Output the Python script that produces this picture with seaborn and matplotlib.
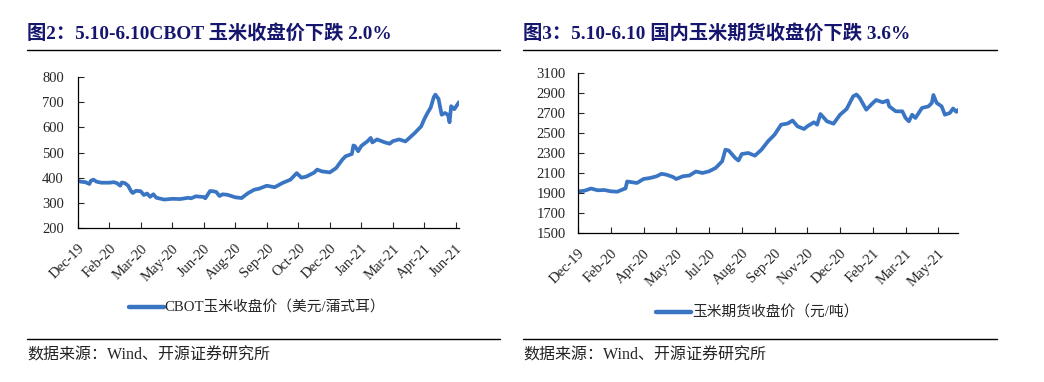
import matplotlib
matplotlib.use("Agg")
import matplotlib.pyplot as plt
from matplotlib.lines import Line2D
import seaborn as sns
import pandas as pd

# ---- data: left chart (CBOT corn close, USD/bushel), x in tick units ----
cbot_t = [0, 0.1, 0.25, 0.37, 0.42, 0.5, 0.6, 0.75, 1.0, 1.15, 1.25, 1.35, 1.4, 1.5, 1.6, 1.7,
          1.75, 1.85, 2.0, 2.1, 2.2, 2.3, 2.4, 2.5, 2.75, 3.0, 3.25, 3.5, 3.6, 3.75, 4.0,
          4.05, 4.2, 4.3, 4.4, 4.5, 4.6, 4.75, 5.0, 5.2, 5.4, 5.6, 5.75, 6.0, 6.25, 6.5,
          6.75, 6.95, 7.1, 7.25, 7.5, 7.6, 7.75, 8.0, 8.2, 8.4, 8.5, 8.7, 8.75, 8.8, 8.9,
          9.0, 9.2, 9.3, 9.35, 9.5, 9.75, 9.9, 10.0, 10.2, 10.4, 10.5, 10.7, 10.9, 11.0,
          11.1, 11.2, 11.3, 11.35, 11.45, 11.55, 11.65, 11.75, 11.8, 11.85, 11.95, 12.1]
cbot_v = [388, 384, 382, 375, 388, 392, 384, 380, 380, 382, 378, 368, 381, 378, 368, 345,
          339, 348, 346, 331, 337, 324, 334, 320, 313, 316, 315, 320, 318, 326, 323,
          318, 347, 346, 343, 327, 334, 332, 322, 319, 338, 352, 356, 368, 362, 379,
          392, 418, 400, 404, 420, 432, 425, 421, 438, 472, 485, 494, 528, 525, 505,
          526, 545, 558, 540, 552, 540, 535, 545, 552, 544, 555, 578, 604, 633,
          657, 678, 720, 730, 713, 650, 657, 650, 620, 684, 672, 700]
cbot_tick_labels = ["Dec-19", "Feb-20", "Mar-20", "May-20", "Jun-20", "Aug-20", "Sep-20",
                    "Oct-20", "Dec-20", "Jan-21", "Mar-21", "Apr-21", "Jun-21"]

# ---- data: right chart (DCE corn futures close, CNY/ton) ----
dce_t = [0, 0.2, 0.4, 0.6, 0.8, 1.0, 1.2, 1.4, 1.45, 1.5, 1.8, 2.0, 2.2, 2.4, 2.55, 2.7,
         2.9, 3.0, 3.2, 3.4, 3.6, 3.8, 4.0, 4.2, 4.4, 4.5, 4.6, 4.8, 4.9, 5.0, 5.2, 5.4,
         5.6, 5.8, 6.0, 6.2, 6.4, 6.55, 6.7, 6.9, 7.0, 7.2, 7.3, 7.4, 7.6, 7.8, 8.0, 8.2,
         8.4, 8.5, 8.6, 8.8, 9.0, 9.1, 9.3, 9.45, 9.5, 9.7, 9.9, 10.0, 10.1, 10.2, 10.3,
         10.5, 10.7, 10.8, 10.85, 10.95, 11.1, 11.2, 11.35, 11.45, 11.55, 11.62]
dce_v = [1915, 1923, 1945, 1927, 1930, 1917, 1913, 1940, 1945, 2015, 2000, 2040, 2050, 2067,
         2092, 2083, 2060, 2040, 2067, 2075, 2115, 2100, 2117, 2150, 2217, 2333, 2325, 2250,
         2225, 2290, 2300, 2273, 2333, 2417, 2483, 2583, 2595, 2625, 2567, 2540, 2567, 2607,
         2583, 2690, 2617, 2593, 2683, 2740, 2867, 2885, 2850, 2733, 2800, 2830, 2807, 2825,
         2767, 2717, 2717, 2650, 2617, 2683, 2650, 2750, 2767, 2800, 2880, 2800, 2767, 2683,
         2700, 2745, 2712, 2735]
dce_tick_labels = ["Dec-19", "Feb-20", "Apr-20", "May-20", "Jul-20", "Aug-20", "Sep-20",
                   "Nov-20", "Dec-20", "Feb-21", "Mar-21", "May-21"]

titles = ["图2：5.10-6.10CBOT 玉米收盘价下跌 2.0%", "图3：5.10-6.10 国内玉米期货收盘价下跌 3.6%"]
legend_labels = ["CBOT玉米收盘价（美元/蒲式耳）", "玉米期货收盘价（元/吨）"]
source_text = "数据来源：Wind、开源证券研究所"

sns.set_theme(style="white")
plt.rcParams["font.family"] = ["Liberation Serif", "Noto Sans CJK SC", "DejaVu Sans"]
plt.rcParams["axes.unicode_minus"] = False

LINE = "#3a75c4"
NAVY = "#16166e"

fig = plt.figure(figsize=(10.44, 3.82), dpi=100)
W, H = 1044, 382

def px_axes(l, r, t, b):
    return fig.add_axes([l / W, 1 - b / H, (r - l) / W, (b - t) / H])

axL = px_axes(77.7, 459, 77, 228)
axR = px_axes(578, 958, 73, 233)

dfL = pd.DataFrame({"t": cbot_t, "v": cbot_v, "s": legend_labels[0]})
dfR = pd.DataFrame({"t": dce_t, "v": dce_v, "s": legend_labels[1]})

for ax, df, ylim, yticks, ticklabels, xmax, leg_xy, ypad in [
    (axL, dfL, (200, 800), range(200, 801, 100), cbot_tick_labels, 12.1, (257, 308), 10),
    (axR, dfR, (1500, 3100), range(1500, 3101, 200), dce_tick_labels, 11.6, (757, 313), 9),
]:
    sns.lineplot(data=df, x="t", y="v", hue="s", palette=[LINE], linewidth=2.7, ax=ax)
    ax.set_xlim(0, xmax)
    ax.set_ylim(*ylim)
    ax.set_yticks(list(yticks))
    ax.set_xticks(range(len(ticklabels)))
    ax.set_xticklabels(ticklabels, rotation=45, ha="right", rotation_mode="anchor", fontsize=10.5)
    ax.tick_params(axis="y", labelsize=10.5, direction="in", length=4, width=0.8, pad=ypad, left=True)
    ax.tick_params(axis="x", direction="in", length=4, width=0.8, pad=10, bottom=True)
    for s in ["top", "right"]:
        ax.spines[s].set_visible(False)
    for s in ["left", "bottom"]:
        ax.spines[s].set_color("black")
        ax.spines[s].set_linewidth(0.9)
    ax.set_xlabel("")
    ax.set_ylabel("")
    ax.grid(False)
    h, l = ax.get_legend_handles_labels()
    ax.legend(h, l, loc="center", bbox_to_anchor=(leg_xy[0] / W, 1 - leg_xy[1] / H),
              bbox_transform=fig.transFigure, frameon=False, fontsize=10.6,
              handlelength=2.4, handletextpad=0.05)
    for line in ax.get_legend().get_lines():
        line.set_linewidth(3.2)

for x0, x1, title in [(27, 500, titles[0]), (523, 997, titles[1])]:
    fig.text(x0 / W, 1 - 33 / H, title, fontsize=13.9, fontweight="bold", color=NAVY,
             ha="left", va="center")
    fig.add_artist(Line2D([x0 / W, x1 / W], [1 - 50 / H] * 2, color="black", linewidth=1.0))
    fig.add_artist(Line2D([x0 / W, x1 / W], [1 - 339 / H] * 2, color="black", linewidth=1.0))
    fig.text(x0 / W, 1 - 356 / H, source_text, fontsize=11.5, color="#222222",
             ha="left", va="center")

fig.savefig("out.png", dpi=100, facecolor="white")
